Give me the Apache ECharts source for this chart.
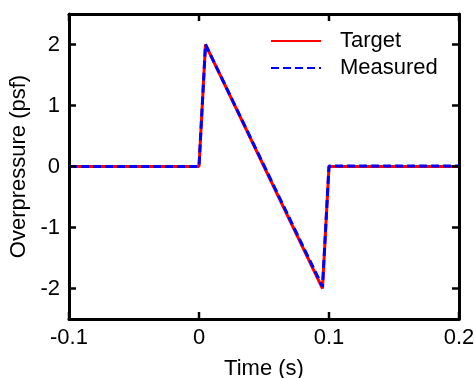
<!DOCTYPE html>
<html>
<head>
<meta charset="utf-8">
<script src="https://cdn.jsdelivr.net/npm/echarts@6/dist/echarts.min.js"></script>
<style>
  html, body { margin: 0; padding: 0; background: #fff; }
  #chart { width: 475px; height: 378px; }
</style>
</head>
<body>
<div id="chart"></div>
<script>
// N-wave overpressure signature: time (s) vs overpressure (psf)
const targetTime = [-0.1, 0.0, 0.005, 0.095, 0.1, 0.2];
const targetP    = [0, 0, 2.0, -2.0, 0, 0];
const measuredTime = [-0.1, 0.0, 0.005, 0.095, 0.1, 0.12, 0.15, 0.2];
const measuredP    = [0, 0, 2.0, -1.97, 0.01, 0.01, 0.01, 0.01];
const xTicks = [-0.1, 0, 0.1, 0.2];
const yTicks = [-2, -1, 0, 1, 2];
const xRange = [-0.1, 0.2];
const yRange = [-2.5, 2.5];

const pairs = (xs, ys) => xs.map((x, i) => [x, ys[i]]);

const font = 'Liberation Sans, Arial, sans-serif';
const fs = 22;
const TICK = 7;
const tickStyle = { stroke: '#000', lineWidth: 2.5 };
const axisLine = () => ({ show: true, onZero: false, lineStyle: { color: '#000', width: 3 } });

// Inward tick marks on all four sides of the box, placed through the axis scales
function xTickItem(params, api) {
  const v = api.value(0);
  const b = api.coord([v, yRange[0]]);
  const t = api.coord([v, yRange[1]]);
  return { type: 'group', children: [
    { type: 'line', shape: { x1: b[0], y1: b[1], x2: b[0], y2: b[1] - TICK }, style: tickStyle },
    { type: 'line', shape: { x1: t[0], y1: t[1], x2: t[0], y2: t[1] + TICK }, style: tickStyle }
  ]};
}
function yTickItem(params, api) {
  const v = api.value(1);
  const l = api.coord([xRange[0], v]);
  const r = api.coord([xRange[1], v]);
  return { type: 'group', children: [
    { type: 'line', shape: { x1: l[0], y1: l[1], x2: l[0] + TICK, y2: l[1] }, style: tickStyle },
    { type: 'line', shape: { x1: r[0], y1: r[1], x2: r[0] - TICK, y2: r[1] }, style: tickStyle }
  ]};
}

const chart = echarts.init(document.getElementById('chart'), null, { renderer: 'canvas' });
chart.setOption({
  animation: false,
  backgroundColor: '#fff',
  grid: { left: 69, right: 16, top: 14, bottom: 59, containLabel: false, outerBoundsMode: 'none' },
  legend: {
    orient: 'vertical',
    left: 270, top: 30, padding: 0,
    itemWidth: 50, itemHeight: 14, itemGap: 5,
    itemStyle: { opacity: 0 },
    textStyle: { fontFamily: font, fontSize: fs, lineHeight: 22, color: '#000', padding: [0, 0, 0, 14] },
    data: ['Target', 'Measured']
  },
  xAxis: [{
    type: 'value', min: xRange[0], max: xRange[1], interval: 0.1,
    name: 'Time (s)', nameLocation: 'middle', nameGap: 39,
    nameTextStyle: { fontFamily: font, fontSize: fs, color: '#000' },
    axisLine: axisLine(), axisTick: { show: false },
    axisLabel: { customValues: xTicks, fontFamily: font, fontSize: fs, color: '#000', margin: 8,
                 formatter: v => String(Math.round(v * 10) / 10) },
    splitLine: { show: false }
  }, {
    type: 'value', position: 'top', min: xRange[0], max: xRange[1], interval: 0.1,
    axisLine: axisLine(), axisTick: { show: false }, axisLabel: { show: false }, splitLine: { show: false }
  }],
  yAxis: [{
    type: 'value', min: yRange[0], max: yRange[1], interval: 0.5,
    name: 'Overpressure (psf)', nameLocation: 'middle', nameGap: 31,
    nameTextStyle: { fontFamily: font, fontSize: fs, color: '#000' },
    axisLine: axisLine(), axisTick: { show: false },
    axisLabel: { customValues: yTicks, fontFamily: font, fontSize: fs, color: '#000', margin: 9 },
    splitLine: { show: false }
  }, {
    type: 'value', position: 'right', min: yRange[0], max: yRange[1], interval: 0.5,
    axisLine: axisLine(), axisTick: { show: false }, axisLabel: { show: false }, splitLine: { show: false }
  }],
  series: [{
    name: 'Target', type: 'line', showSymbol: false, symbol: 'none',
    data: pairs(targetTime, targetP),
    lineStyle: { color: '#ff0000', width: 3 },
    itemStyle: { color: '#ff0000' }
  }, {
    name: 'Measured', type: 'line', showSymbol: false, symbol: 'none',
    data: pairs(measuredTime, measuredP),
    lineStyle: { color: '#0000ff', width: 3, type: [8, 4] },
    itemStyle: { color: '#0000ff' }
  }, {
    name: 'xticks', type: 'custom', clip: false, silent: true, z: 5,
    renderItem: xTickItem,
    data: xTicks.map(v => [v, 0])
  }, {
    name: 'yticks', type: 'custom', clip: false, silent: true, z: 5,
    renderItem: yTickItem,
    data: yTicks.map(v => [0, v])
  }]
});
</script>
</body>
</html>
